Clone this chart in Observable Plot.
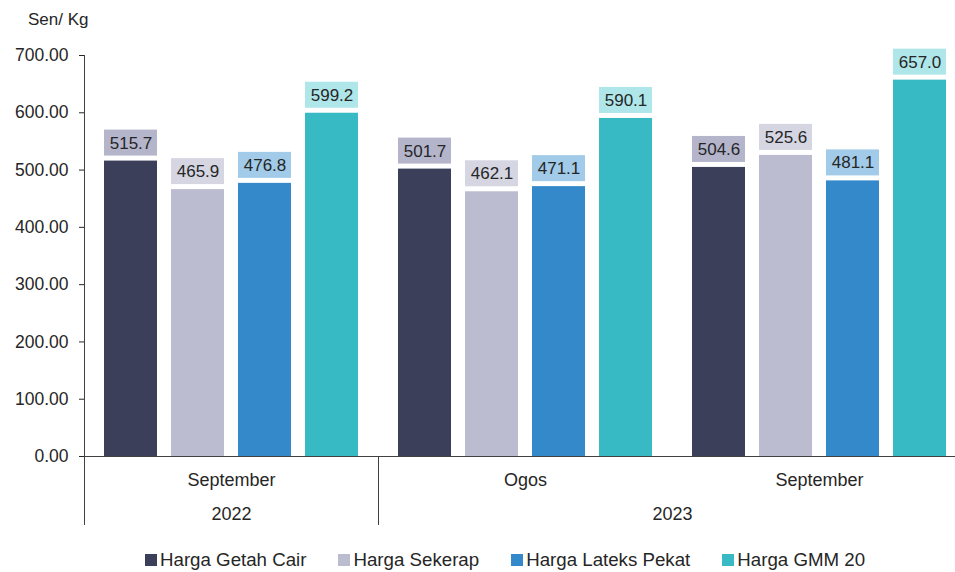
<!DOCTYPE html>
<html>
<head>
<meta charset="utf-8">
<script src="https://cdn.jsdelivr.net/npm/d3@7"></script>
<script src="https://cdn.jsdelivr.net/npm/@observablehq/plot@0.6"></script>
<style>
  html, body { margin: 0; padding: 0; background: #fff; }
  #wrap { position: relative; width: 955px; height: 572px; overflow: hidden; font-family: "Liberation Sans", Arial, sans-serif; color: #262626; }
  #unit { position: absolute; left: 28px; top: 10px; font-size: 17px; }
  #chart { position: absolute; left: 0; top: 0; width: 966px; }
  #chart svg { max-width: none !important; }
  #legend { position: absolute; left: 145px; top: 547px; display: flex; align-items: center; font-size: 18.7px; line-height: 26px; white-space: nowrap; }
  .item { display: flex; align-items: center; margin-right: 32px; }
  .sw { width: 12px; height: 12px; margin-right: 3px; }
</style>
</head>
<body>
<div id="wrap">
  <div id="chart"></div>
  <div id="unit"></div>
  <div id="legend"></div>
</div>
<script>
// ---- data ----
const periods = ["2022-September", "2023-Ogos", "2023-September"];
const monthLabels = ["September", "Ogos", "September"];
const yearLabels = ["2022", "2023"];
const series = ["Harga Getah Cair", "Harga Sekerap", "Harga Lateks Pekat", "Harga GMM 20"];
const getahCair = [515.7, 501.7, 504.6];
const sekerap = [465.9, 462.1, 525.6];
const lateksPekat = [476.8, 471.1, 481.1];
const gmm20 = [599.2, 590.1, 657.0];
const barColors = ["#3b3f59", "#bbbccf", "#3389c9", "#37bac3"];
const labelColors = ["#b4b5cb", "#d5d6e2", "#a1cbe8", "#aee6e9"];
const yTicks = [0, 100, 200, 300, 400, 500, 600, 700];
const unitLabel = "Sen/ Kg";

const values = [getahCair, sekerap, lateksPekat, gmm20];
const rows = periods.flatMap((p, i) => series.map((s, j) => ({
  period: p, series: s, value: values[j][i], color: barColors[j], labelColor: labelColors[j]
})));
const monthRows = periods.map((p, i) => ({period: p, month: monthLabels[i]}));

// layout constants (pixels)
const groupPad = 20, barW = 53, barGap = 14;
const step = barW + barGap;
const firstCenterOffset = groupPad + barW / 2;
const axisColor = "#404040";

const plot = Plot.plot({
  width: 966,
  height: 535,
  marginTop: 55,
  marginBottom: 79,
  marginLeft: 84,
  marginRight: 0,
  style: {fontFamily: "Liberation Sans, Arial, sans-serif", fontSize: "17.5px", color: "#262626", background: "transparent", maxWidth: "none"},
  fx: {domain: periods, paddingInner: 0, paddingOuter: 0, axis: null, label: null},
  x: {domain: series, paddingInner: barGap / step, paddingOuter: (294 - 4 * step + barGap) / 2 / step, axis: null, label: null},
  y: {domain: [0, 700], ticks: yTicks, tickFormat: d3.format(".2f"), tickSize: 5, tickPadding: 11, label: null, grid: false},
  color: {type: "identity"},
  marks: [
    Plot.barY(rows, {fx: "period", x: "series", y: "value", fill: "color"}),
    Plot.barY(rows, {fx: "period", x: "series", y1: "value", y2: "value", fill: "labelColor", insetTop: -31, insetBottom: 5}),
    Plot.text(rows, {fx: "period", x: "series", y: "value", text: d => d.value.toFixed(1), dy: -18, fontSize: 17, fill: "#262626"}),
    Plot.ruleY([0], {stroke: axisColor, strokeWidth: 1}),
    Plot.ruleX([{period: periods[0], series: series[0]}], {fx: "period", x: "series", dx: -firstCenterOffset, insetBottom: -69, stroke: axisColor}),
    Plot.ruleX([{period: periods[1], series: series[0]}], {fx: "period", x: "series", dx: -firstCenterOffset, insetTop: 401, insetBottom: -69, stroke: axisColor}),
    Plot.text(monthRows, {fx: "period", text: "month", frameAnchor: "bottom", dy: 29, fontSize: 18, fill: "#262626"}),
    Plot.text([{period: periods[0], year: yearLabels[0]}], {fx: "period", text: "year", frameAnchor: "bottom", dy: 63, fontSize: 18, fill: "#262626"}),
    Plot.text([{period: periods[1], year: yearLabels[1]}], {fx: "period", text: "year", frameAnchor: "bottom-right", textAnchor: "middle", dy: 63, fontSize: 18, fill: "#262626"})
  ]
});
document.getElementById("chart").appendChild(plot);
document.getElementById("unit").textContent = unitLabel;

const legend = document.getElementById("legend");
series.forEach((s, j) => {
  const it = document.createElement("div");
  it.className = "item";
  const sw = document.createElement("span");
  sw.className = "sw";
  sw.style.background = barColors[j];
  const t = document.createElement("span");
  t.textContent = s;
  it.appendChild(sw); it.appendChild(t);
  legend.appendChild(it);
});
</script>
</body>
</html>
